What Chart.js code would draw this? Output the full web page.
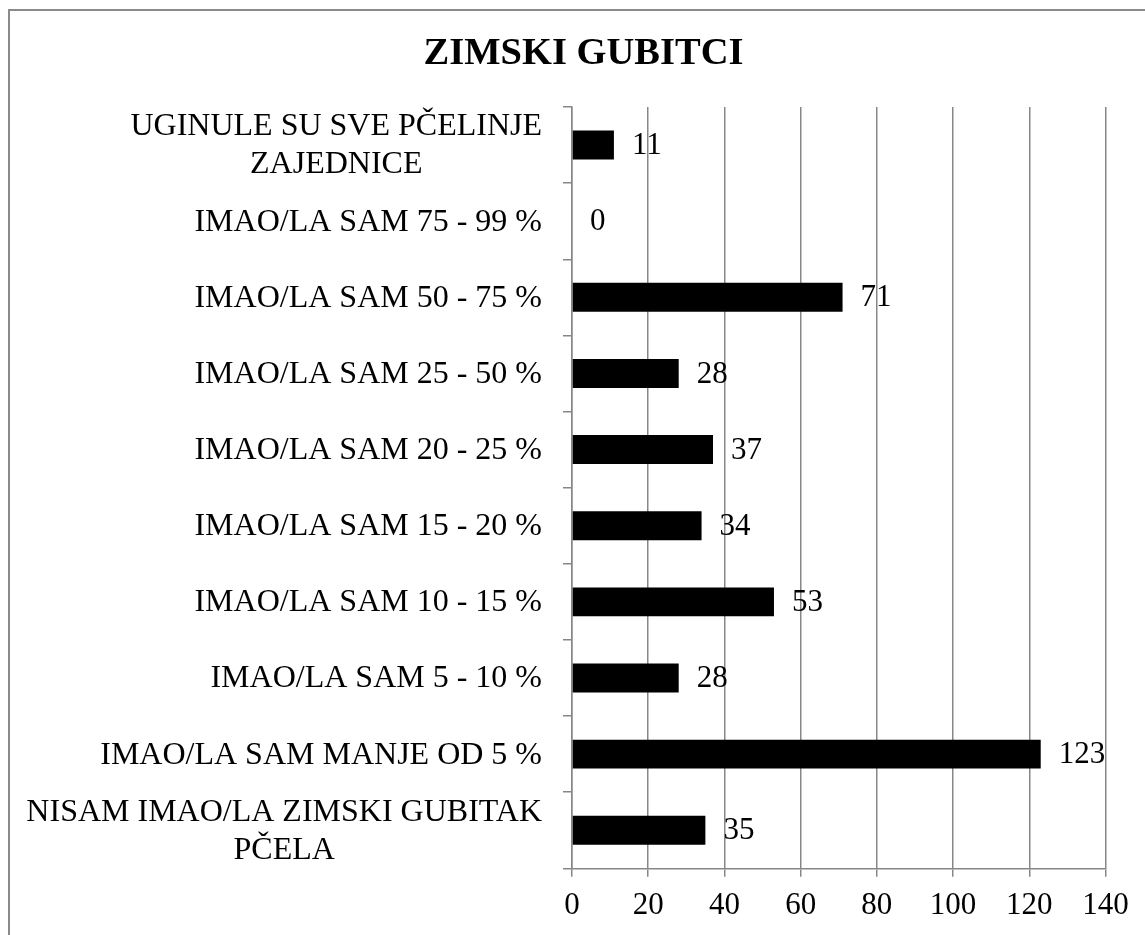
<!DOCTYPE html>
<html>
<head>
<meta charset="utf-8">
<title>Zimski gubitci</title>
<script src="https://cdn.jsdelivr.net/npm/chart.js@4/dist/chart.umd.min.js"></script>
<style>
    html, body { margin: 0; padding: 0; background: #fff; overflow: hidden; }
    #frame {
        position: absolute; left: 8px; top: 9px;
        width: 1200px; height: 1000px;
        border: 2px solid #8a8a8a;
    }
    #wrap { position: absolute; left: 0; top: 0; width: 1145px; height: 935px; }
</style>
</head>
<body>
<div id="frame"></div>
<div id="wrap"><canvas id="lossChart"></canvas></div>
<script>
const chartTitle = 'ZIMSKI GUBITCI';
const categories = [
    ['UGINULE SU SVE PČELINJE', 'ZAJEDNICE'],
    'IMAO/LA SAM 75 - 99 %',
    'IMAO/LA SAM 50 - 75 %',
    'IMAO/LA SAM 25 - 50 %',
    'IMAO/LA SAM 20 - 25 %',
    'IMAO/LA SAM 15 - 20 %',
    'IMAO/LA SAM 10 - 15 %',
    'IMAO/LA SAM 5 - 10 %',
    'IMAO/LA SAM MANJE OD 5 %',
    ['NISAM IMAO/LA ZIMSKI GUBITAK', 'PČELA']
];
const counts = [11, 0, 71, 28, 37, 34, 53, 28, 123, 35];
const xTicks = [0, 20, 40, 60, 80, 100, 120, 140];

const serif = '"Liberation Serif", "Times New Roman", serif';
const gridGray = '#878787';

// bold heading over the plot
const heading = {
    id: 'heading',
    afterDraw(chart) {
        const ctx = chart.ctx;
        ctx.save();
        ctx.font = 'bold 38.5px ' + serif;
        ctx.fillStyle = '#000';
        ctx.textAlign = 'center';
        ctx.textBaseline = 'middle';
        ctx.fillText(chartTitle, 583.5, 54);
        ctx.restore();
    }
};

// category names: right-aligned block, lines centred within it
const categoryLabels = {
    id: 'categoryLabels',
    afterDraw(chart) {
        const ctx = chart.ctx;
        const y = chart.scales.y;
        const right = 542;
        ctx.save();
        ctx.font = '32px ' + serif;
        ctx.fillStyle = '#000';
        ctx.textAlign = 'center';
        ctx.textBaseline = 'middle';
        categories.forEach((label, i) => {
            const lines = Array.isArray(label) ? label : [label];
            const w = Math.max(...lines.map(l => ctx.measureText(l).width));
            const cx = right - w / 2;
            const cy = y.getPixelForValue(i);
            const lh = 38;
            lines.forEach((line, k) => {
                ctx.fillText(line, cx, cy + (k - (lines.length - 1) / 2) * lh + 1);
            });
        });
        ctx.restore();
    }
};

// value next to each bar end
const valueLabels = {
    id: 'valueLabels',
    afterDatasetsDraw(chart) {
        const ctx = chart.ctx;
        const meta = chart.getDatasetMeta(0);
        ctx.save();
        ctx.font = '31px ' + serif;
        ctx.fillStyle = '#000';
        ctx.textAlign = 'left';
        ctx.textBaseline = 'middle';
        meta.data.forEach((bar, i) => {
            ctx.fillText(String(counts[i]), bar.x + 18, bar.y + 1);
        });
        ctx.restore();
    }
};

new Chart(document.getElementById('lossChart'), {
    type: 'bar',
    data: {
        labels: categories,
        datasets: [{
            data: counts,
            backgroundColor: '#000',
            borderWidth: 0,
            categoryPercentage: 1,
            barPercentage: 0.38
        }]
    },
    options: {
        indexAxis: 'y',
        responsive: true,
        maintainAspectRatio: false,
        animation: false,
        layout: { padding: { left: 22, right: 39.5, top: 107, bottom: 0 } },
        plugins: {
            legend: { display: false },
            tooltip: { enabled: false },
            title: { display: false }
        },
        scales: {
            x: {
                min: 0,
                max: 140,
                afterBuildTicks(scale) { scale.ticks = xTicks.map(v => ({ value: v })); },
                afterFit(scale) { scale.height = 66.7; },
                ticks: {
                    color: '#000',
                    font: { family: serif, size: 31 },
                    padding: 10,
                    maxRotation: 0
                },
                grid: { color: gridGray, lineWidth: 1.5, tickLength: 8.5 },
                border: { color: gridGray, width: 1.5 }
            },
            y: {
                afterFit(scale) { scale.width = 550; },
                ticks: { display: false },
                grid: { drawOnChartArea: false, color: gridGray, lineWidth: 1.5, tickLength: 9 },
                border: { color: gridGray, width: 1.5 }
            }
        }
    },
    plugins: [heading, categoryLabels, valueLabels]
});
</script>
</body>
</html>
